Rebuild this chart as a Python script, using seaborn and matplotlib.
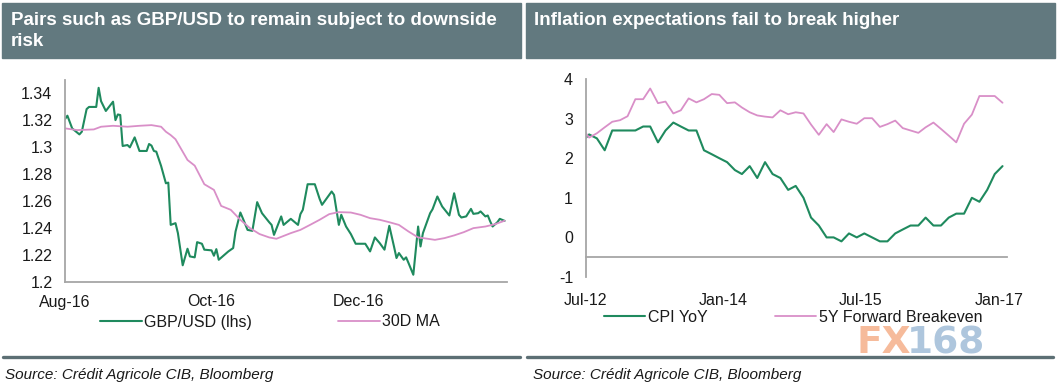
import matplotlib
matplotlib.use("Agg")
import matplotlib.pyplot as plt
import matplotlib.ticker as ticker
from matplotlib.patches import Rectangle
from matplotlib.lines import Line2D
import numpy as np
import pandas as pd
import seaborn as sns

# ---- left panel: GBP/USD daily and its 30D moving average
gbp_dates = [
    "2016-08-01", "2016-08-02", "2016-08-04", "2016-08-07", "2016-08-08", "2016-08-10", "2016-08-11",
    "2016-08-14", "2016-08-15", "2016-08-16", "2016-08-18", "2016-08-21", "2016-08-22", "2016-08-23",
    "2016-08-24", "2016-08-25", "2016-08-27", "2016-08-28", "2016-08-30",
    "2016-09-01", "2016-09-04", "2016-09-05", "2016-09-06", "2016-09-07", "2016-09-08", "2016-09-10",
    "2016-09-12", "2016-09-13", "2016-09-14", "2016-09-16", "2016-09-17", "2016-09-19", "2016-09-21",
    "2016-09-22", "2016-09-24", "2016-09-25", "2016-09-27", "2016-09-28",
    "2016-10-01", "2016-10-02", "2016-10-03", "2016-10-04", "2016-10-08", "2016-10-10", "2016-10-11",
    "2016-10-13", "2016-10-14", "2016-10-16", "2016-10-18", "2016-10-20", "2016-10-22", "2016-10-25",
    "2016-10-26", "2016-10-27", "2016-10-30", "2016-10-31",
    "2016-11-03", "2016-11-06", "2016-11-07", "2016-11-08", "2016-11-10", "2016-11-13", "2016-11-15",
    "2016-11-16", "2016-11-20", "2016-11-21", "2016-11-23", "2016-11-24", "2016-11-26", "2016-11-28",
    "2016-11-30",
    "2016-12-04", "2016-12-06", "2016-12-08", "2016-12-10", "2016-12-12", "2016-12-14", "2016-12-16",
    "2016-12-17", "2016-12-18", "2016-12-20", "2016-12-21", "2016-12-22", "2016-12-24", "2016-12-26",
    "2016-12-27", "2016-12-28", "2016-12-31",
    "2017-01-01", "2017-01-03", "2017-01-05", "2017-01-08", "2017-01-10", "2017-01-12", "2017-01-13",
    "2017-01-15", "2017-01-17", "2017-01-18", "2017-01-20", "2017-01-21", "2017-01-23", "2017-01-24",
    "2017-01-25", "2017-01-26", "2017-01-28", "2017-01-29", "2017-01-31",
]
gbp_values = [
    1.321, 1.3235, 1.314, 1.3096, 1.3116, 1.3284, 1.330, 1.330, 1.3442, 1.3343, 1.327, 1.3339, 1.3202,
    1.3244, 1.324, 1.301, 1.3017, 1.300, 1.3074,
    1.2973, 1.2973, 1.3025, 1.3013, 1.2973, 1.2968, 1.2862, 1.2733, 1.2738, 1.2424, 1.2437, 1.2363,
    1.2124, 1.2247, 1.219, 1.2183, 1.2296, 1.2284, 1.224,
    1.2235, 1.2195, 1.2244, 1.2165, 1.2227, 1.2252, 1.2375, 1.2516, 1.2474, 1.2387, 1.238, 1.2593,
    1.2511, 1.2444, 1.2424, 1.235, 1.2487, 1.2424,
    1.2469, 1.2424, 1.2504, 1.2536, 1.2726, 1.2726, 1.2617, 1.2573, 1.2672, 1.2647, 1.2424, 1.2499,
    1.2412, 1.2356, 1.2284,
    1.2284, 1.2227, 1.2331, 1.2289, 1.224, 1.2417, 1.226, 1.2178, 1.2215, 1.2165, 1.2183, 1.2141,
    1.2054, 1.2412, 1.2264, 1.2363, 1.2511,
    1.254, 1.2635, 1.2561, 1.2494, 1.2659, 1.2499, 1.2479, 1.2487, 1.2543, 1.2506, 1.2511, 1.2524,
    1.2487, 1.2494, 1.245, 1.2412, 1.2444, 1.2469, 1.2454,
]
ma_dates = [
    "2016-08-01", "2016-08-06", "2016-08-13", "2016-08-16", "2016-08-21", "2016-08-27", "2016-09-01",
    "2016-09-06", "2016-09-10", "2016-09-12", "2016-09-14", "2016-09-16", "2016-09-21", "2016-09-24",
    "2016-09-28", "2016-10-02", "2016-10-05", "2016-10-09", "2016-10-13", "2016-10-17", "2016-10-21",
    "2016-10-25", "2016-10-28", "2016-11-03", "2016-11-07", "2016-11-11", "2016-11-15", "2016-11-19",
    "2016-11-23", "2016-11-28", "2016-12-02", "2016-12-06", "2016-12-10", "2016-12-14", "2016-12-18",
    "2016-12-22", "2016-12-26", "2016-12-30", "2017-01-02", "2017-01-06", "2017-01-10", "2017-01-14",
    "2017-01-18", "2017-01-23", "2017-01-27", "2017-01-31",
]
ma_values = [
    1.3141, 1.3128, 1.3133, 1.3153, 1.316, 1.3153, 1.316, 1.3165, 1.3153, 1.3116, 1.3091, 1.306,
    1.2906, 1.2864, 1.2726, 1.2684, 1.2565, 1.2536, 1.2462, 1.24, 1.2356, 1.2331, 1.2321, 1.2363,
    1.2387, 1.2424, 1.2462, 1.2504, 1.2519, 1.2516, 1.2499, 1.2474, 1.2462, 1.2444, 1.2424, 1.2375,
    1.2331, 1.2321, 1.2313, 1.2326, 1.2346, 1.237, 1.24, 1.2412, 1.2429, 1.2455,
]

# ---- right panel: monthly, Jun-12 .. Jan-17 (mid-month points)
months = pd.date_range("2012-06-01", "2017-01-01", freq="MS") + pd.Timedelta(days=14)
cpi_yoy = [
    2.4, 2.6, 2.5, 2.2, 2.7, 2.7, 2.7,
    2.7, 2.8, 2.8, 2.4, 2.7, 2.9, 2.8, 2.7, 2.7, 2.2, 2.1, 2.0,
    1.9, 1.7, 1.6, 1.8, 1.5, 1.9, 1.6, 1.5, 1.2, 1.3, 1.0, 0.5,
    0.3, 0.0, 0.0, -0.1, 0.1, 0.0, 0.1, 0.0, -0.1, -0.1, 0.1, 0.2,
    0.3, 0.3, 0.5, 0.3, 0.3, 0.5, 0.6, 0.6, 1.0, 0.9, 1.2, 1.6,
    1.8,
]
fwd_breakeven = [
    2.78, 2.52, 2.63, 2.78, 2.92, 2.96, 3.06,
    3.49, 3.49, 3.76, 3.39, 3.43, 3.13, 3.21, 3.51, 3.41, 3.49, 3.62, 3.60,
    3.39, 3.41, 3.28, 3.16, 3.08, 3.05, 3.03, 3.21, 3.11, 3.16, 3.13, 2.85,
    2.59, 2.86, 2.66, 2.98, 2.92, 2.87, 3.01, 3.01, 2.79, 2.86, 2.95, 2.76,
    2.70, 2.64, 2.78, 2.90, 2.74, 2.57, 2.40, 2.87, 3.10, 3.57, 3.57, 3.57,
    3.40,
]

GREEN = "#1f8a5e"
PINK = "#d98fc8"
SPINE = "#a6a6a6"
BAR = "#62797f"
TXT = "#1a1a1a"

sns.set_style("white")
plt.rcParams["font.family"] = ["Liberation Sans", "DejaVu Sans"]
plt.rcParams["axes.unicode_minus"] = False

df_gbp = pd.DataFrame({"date": pd.to_datetime(gbp_dates), "value": gbp_values})
df_ma = pd.DataFrame({"date": pd.to_datetime(ma_dates), "value": ma_values})
df_inf = pd.DataFrame({"date": months, "cpi": cpi_yoy, "be": fwd_breakeven})

W, H = 1057, 387
fig = plt.figure(figsize=(W / 100, H / 100), dpi=100)


def fx(px):
    return px / W


def fy(py):
    return 1 - py / H


ax1 = fig.add_axes([fx(65), fy(282), fx(507 - 65), (282 - 80) / H])
ax2 = fig.add_axes([fx(585.6), fy(277), fx(1006.8 - 585.6), (277 - 79) / H])

sns.lineplot(data=df_gbp, x="date", y="value", ax=ax1, color=GREEN, lw=1.5, label="GBP/USD (lhs)")
sns.lineplot(data=df_ma, x="date", y="value", ax=ax1, color=PINK, lw=1.3, label="30D MA")
sns.lineplot(data=df_inf, x="date", y="cpi", ax=ax2, color=GREEN, lw=1.5, label="CPI YoY")
sns.lineplot(data=df_inf, x="date", y="be", ax=ax2, color=PINK, lw=1.3, label="5Y Forward Breakeven")

ax1.set_xlim(pd.Timestamp("2016-08-01"), pd.Timestamp("2017-02-01"))
ax1.set_ylim(1.2, 1.35)
ax1.yaxis.set_major_locator(ticker.FixedLocator(np.arange(1.2, 1.341, 0.02)))
ax1.yaxis.set_major_formatter(ticker.FuncFormatter(lambda v, p: f"{v:g}"))
ax1.set_xticks(pd.to_datetime(["2016-08-01", "2016-10-01", "2016-12-01", "2017-02-01"]))
ax1.set_xticklabels(["Aug-16", "Oct-16", "Dec-16", ""])

ax2.set_xlim(pd.Timestamp("2012-07-01"), pd.Timestamp("2017-02-01"))
ax2.set_ylim(-1, 4)
ax2.yaxis.set_major_locator(ticker.MultipleLocator(1))
ax2.yaxis.set_major_formatter(ticker.FuncFormatter(lambda v, p: f"{v:g}"))
ax2.set_xticks(pd.to_datetime(["2012-07-01", "2014-01-01", "2015-07-01", "2017-01-01"]))
ax2.set_xticklabels(["Jul-12", "Jan-14", "Jul-15", "Jan-17"])
ax2.spines["bottom"].set_position(("data", -0.5))

for ax in (ax1, ax2):
    ax.set_xlabel("")
    ax.set_ylabel("")
    ax.grid(False)
    ax.get_legend().remove()
    for s in ("top", "right"):
        ax.spines[s].set_visible(False)
    for s in ("left", "bottom"):
        ax.spines[s].set_color(SPINE)
        ax.spines[s].set_linewidth(1.3)
    ax.tick_params(axis="both", which="both", direction="out", length=4, width=1.1,
                   color=SPINE, labelsize=11.5, labelcolor=TXT)
    ax.tick_params(axis="y", pad=5)
ax1.tick_params(axis="x", pad=5)
ax2.tick_params(axis="x", pad=22)

# legends
leg_kw = dict(ncol=2, frameon=False, fontsize=11.5, handlelength=2.6, handletextpad=0.15,
              loc="center", bbox_transform=fig.transFigure, labelcolor=TXT)
h1, l1 = ax1.get_legend_handles_labels()
fig.legend(h1, l1, bbox_to_anchor=(fx(270), fy(322)), columnspacing=5.4, **leg_kw)
h2, l2 = ax2.get_legend_handles_labels()
fig.legend(h2, l2, bbox_to_anchor=(fx(793), fy(317)), columnspacing=4.2, **leg_kw)

# title bars
fig.patches.append(Rectangle((fx(2), fy(58)), fx(521 - 2), (58 - 3) / H, transform=fig.transFigure,
                             color=BAR, zorder=0))
fig.patches.append(Rectangle((fx(526), fy(58)), fx(1055 - 526), (58 - 3) / H, transform=fig.transFigure,
                             color=BAR, zorder=0))
fig.text(fx(11), fy(12), "Pairs such as GBP/USD to remain subject to downside\nrisk", color="white",
         fontsize=13.5, fontweight="bold", va="top", ha="left", linespacing=1.3)
fig.text(fx(534), fy(12), "Inflation expectations fail to break higher", color="white",
         fontsize=13.5, fontweight="bold", va="top", ha="left")

# separators and sources
fig.add_artist(Line2D([fx(3), fx(520)], [fy(357), fy(357)], color="#5c6f74", lw=2.4))
fig.add_artist(Line2D([fx(527), fx(1053)], [fy(357), fy(357)], color="#5c6f74", lw=2.4))
fig.text(fx(5), fy(375), "Source: Crédit Agricole CIB, Bloomberg", fontsize=11, style="italic",
         color=TXT, va="center", ha="left")
fig.text(fx(533), fy(375), "Source: Crédit Agricole CIB, Bloomberg", fontsize=11, style="italic",
         color=TXT, va="center", ha="left")

# watermark
fig.text(fx(856), fy(343), "FX", fontsize=27, fontweight="bold", color="#f3a47a", alpha=0.75,
         va="center", ha="left", family="DejaVu Sans")
fig.text(fx(907), fy(343), "168", fontsize=27, fontweight="bold", color="#93b4d2", alpha=0.75,
         va="center", ha="left", family="DejaVu Sans")

fig.savefig("out.png", dpi=100)
